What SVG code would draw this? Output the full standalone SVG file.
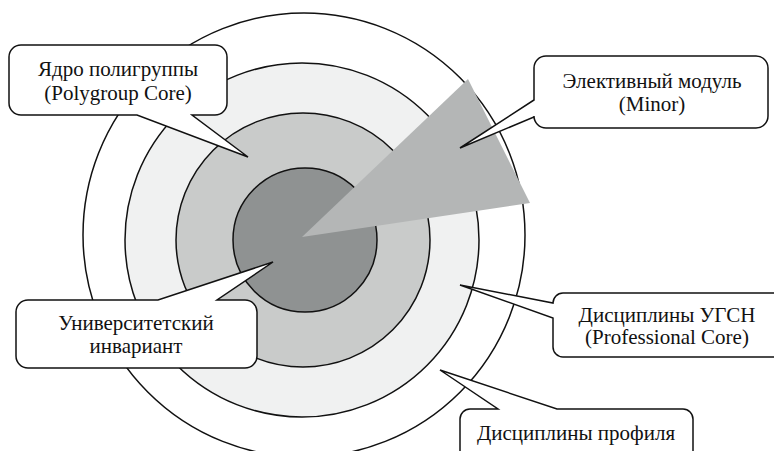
<svg xmlns="http://www.w3.org/2000/svg" width="774" height="451" viewBox="0 0 774 451">
<style>
.ring{stroke:#111;stroke-width:1.5}
.call{fill:#fff;stroke:#111;stroke-width:1.5;stroke-linejoin:miter}
.t{font-family:"Liberation Serif","Times New Roman",serif;font-size:21px;fill:#111;text-anchor:middle}
</style>
<rect width="774" height="451" fill="#fff"/>
<g id="rings">
<ellipse id="ring-outer" class="ring" cx="304" cy="235" rx="221" ry="222" fill="#fff"/>
<circle id="ring-profile" class="ring" cx="302" cy="240" r="177" fill="#f0f1f1"/>
<circle id="ring-ugsn" class="ring" cx="303" cy="240" r="127" fill="#c9cbca"/>
<circle id="ring-core" class="ring" cx="305" cy="240" r="72" fill="#8f9292"/>
<polygon id="minor-wedge" points="302,237 468,79 530,203" fill="#b4b6b6"/>
</g>
<g id="connectors"></g>
<g id="node-polygroup">
<path class="call" d="M21,45 H215 A12,12 0 0 1 227,57 V103 A12,12 0 0 1 215,115 H192 L248,157 L137,115 H21 A12,12 0 0 1 9,103 V57 A12,12 0 0 1 21,45 Z"/>
<text class="t" x="118" y="76">Ядро полигруппы</text>
<text class="t" x="118" y="100">(Polygroup Core)</text>
</g>
<g id="node-minor">
<path class="call" d="M546,56 H756 A12,12 0 0 1 768,68 V116 A12,12 0 0 1 756,128 H546 A12,12 0 0 1 534,116 V117 L460,148 L534,100 V68 A12,12 0 0 1 546,56 Z"/>
<text class="t" x="652" y="88">Элективный модуль</text>
<text class="t" x="652" y="111">(Minor)</text>
</g>
<g id="node-invariant">
<path class="call" d="M28,300 H158 L273,262 L217,300 H245 A12,12 0 0 1 257,312 V356 A12,12 0 0 1 245,368 H28 A12,12 0 0 1 16,356 V312 A12,12 0 0 1 28,300 Z"/>
<text class="t" x="136" y="330">Университетский</text>
<text class="t" x="136" y="353">инвариант</text>
</g>
<g id="node-ugsn">
<path class="call" d="M563,293 H790 V357 H563 A10,10 0 0 1 553,347 V318 L460,285 L553,303 A10,10 0 0 1 563,293 Z"/>
<text class="t" x="667" y="322">Дисциплины УГСН</text>
<text class="t" x="667" y="344">(Professional Core)</text>
</g>
<g id="node-profile">
<path class="call" d="M470,409 H498 L440,370 L557,409 H683 A10,10 0 0 1 693,419 V470 H460 V419 A10,10 0 0 1 470,409 Z"/>
<text class="t" x="576" y="440">Дисциплины профиля</text>
</g>
</svg>
